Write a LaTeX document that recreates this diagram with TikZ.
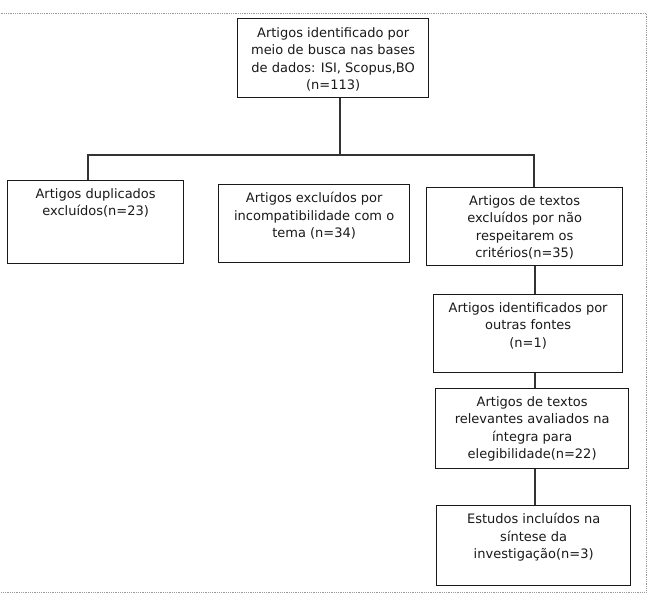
\documentclass[tikz,border=0pt]{standalone}
\usepackage{fontspec}
\setmainfont{DejaVu Sans}
\begin{document}
\begin{tikzpicture}[x=1pt,y=-1pt,
  box/.style={draw=black!90, line width=1.3pt, inner sep=0pt, anchor=north west},
  txt/.style={align=center, inner sep=0pt, anchor=north, font=\fontsize{13}{17.5}\selectfont, text=black!90},
  link/.style={draw=black!80, line width=1.1pt},
  framestyle/.style={draw=black!40, densely dotted, line width=0.8pt}]
\useasboundingbox (0,0) rectangle (651,601);
\draw[framestyle] (-3,13) -- (646,13) -- (646,592) -- (-3,592);

\node[box, minimum width=191pt, minimum height=79pt] (top) at (237,18) {};
\node[box, minimum width=176pt, minimum height=83pt] (left) at (7,180) {};
\node[box, minimum width=191pt, minimum height=78pt] (mid) at (218,184) {};
\node[box, minimum width=196pt, minimum height=78pt] (right) at (426,187) {};
\node[box, minimum width=189pt, minimum height=78pt] (b4) at (433,294) {};
\node[box, minimum width=193pt, minimum height=80pt] (b5) at (435,388) {};
\node[box, minimum width=194pt, minimum height=80pt] (b6) at (436,505) {};

\node[txt] (ttop) at ([yshift=-9pt]top.north) {Artigos identificado por\\meio de busca nas bases\\de dados: ISI, Scopus,BO\\(n=113)};
\node[txt] (tleft) at ([yshift=-8pt]left.north) {Artigos duplicados\\excluídos(n=23)};
\node[txt] (tmid) at ([yshift=-8pt]mid.north) {Artigos excluídos por\\incompatibilidade com o\\tema (n=34)};
\node[txt] (tright) at ([yshift=-8pt]right.north) {Artigos de textos\\excluídos por não\\respeitarem os\\critérios(n=35)};
\node[txt] (tb4) at ([yshift=-8pt]b4.north) {Artigos identificados por\\outras fontes\\(n=1)};
\node[txt] (tb5) at ([yshift=-8pt]b5.north) {Artigos de textos\\relevantes avaliados na\\íntegra para\\elegibilidade(n=22)};
\node[txt] (tb6) at ([yshift=-8pt]b6.north) {Estudos incluídos na\\síntese da\\investigação(n=3)};

\coordinate (hl) at (88,155);
\coordinate (hr) at (534,155);
\coordinate (cx) at (535,0);
\coordinate (tx) at (340,0);
\draw[link] (top.south -| tx) -- (hl -| tx);
\draw[link] (left.north -| hl) -- (hl) -- (hr) -- (right.north -| hr);
\draw[link] (right.south -| cx) -- (b4.north -| cx);
\draw[link] (b4.south -| cx) -- (b5.north -| cx);
\draw[link] (b5.south -| cx) -- (b6.north -| cx);
\end{tikzpicture}
\end{document}
